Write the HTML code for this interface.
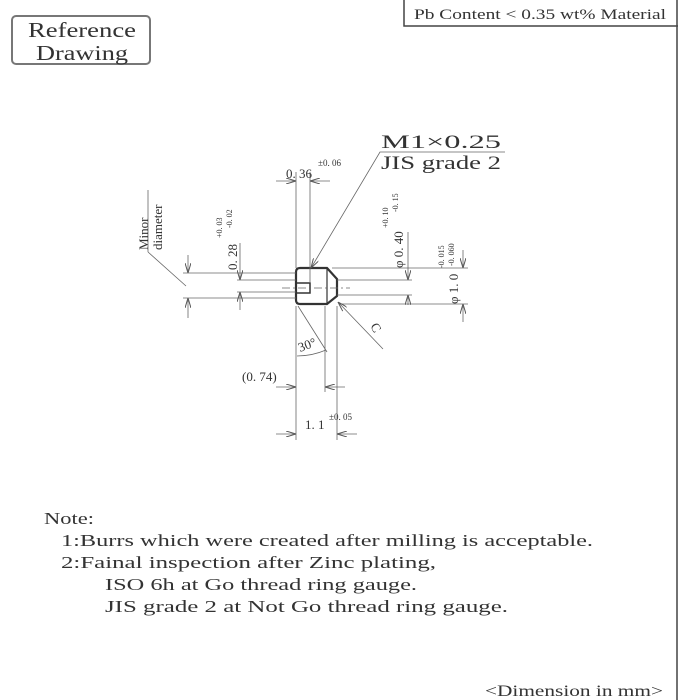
<!DOCTYPE html>
<html><head><meta charset="utf-8"><style>
html,body{margin:0;padding:0;background:#fff}
svg{display:block}
text{font-family:"Liberation Serif",serif;fill:#333}
</style></head><body>
<svg width="680" height="700" viewBox="0 0 680 700" xmlns="http://www.w3.org/2000/svg">
<defs>
<marker id="a" viewBox="0 0 10 6" refX="10" refY="3" markerWidth="10" markerHeight="6" orient="auto-start-reverse" markerUnits="userSpaceOnUse"><path d="M0,0L10,3L0,6" fill="none" stroke="#555" stroke-width="1"/></marker>
</defs>
<rect x="12" y="16" width="138" height="48" rx="4" fill="none" stroke="#777" stroke-width="2"/>
<text x="28" y="37" font-size="21" fill="#666" textLength="108" lengthAdjust="spacingAndGlyphs">Reference</text>
<text x="36" y="60" font-size="21" fill="#666" textLength="92" lengthAdjust="spacingAndGlyphs">Drawing</text>
<path d="M404,0V26H678" fill="none" stroke="#444" stroke-width="1.5"/>
<line x1="677" y1="0" x2="677" y2="700" stroke="#444" stroke-width="1.5"/>
<text x="414" y="19" font-size="15" textLength="252" lengthAdjust="spacingAndGlyphs">Pb Content &lt; 0.35 wt% Material</text>

<g stroke="#666" stroke-width="0.8" fill="none">
<path d="M300,268H327L337,279V296L327,304H300Q296,304 296,300V272Q296,268 300,268Z" stroke="#333" stroke-width="2.2"/>
<line x1="327" y1="268" x2="327" y2="304" stroke="#333" stroke-width="1.2"/>
<path d="M296,283H310V293H296" stroke="#333" stroke-width="1.5"/>
<line x1="282" y1="288" x2="350" y2="288" stroke-dasharray="8,3,2,3"/>
<line x1="183" y1="273" x2="296" y2="273"/><line x1="183" y1="298" x2="296" y2="298"/>
<line x1="188" y1="255" x2="188" y2="273" marker-end="url(#a)"/><line x1="188" y1="318" x2="188" y2="298" marker-end="url(#a)"/>
<line x1="148" y1="252" x2="186" y2="286"/><line x1="148" y1="252" x2="148" y2="190"/>
<line x1="237" y1="280" x2="296" y2="280"/><line x1="237" y1="292" x2="296" y2="292"/>
<line x1="240" y1="243" x2="240" y2="280" marker-end="url(#a)"/><line x1="240" y1="310" x2="240" y2="292" marker-end="url(#a)"/>
<line x1="337" y1="280" x2="412" y2="280"/><line x1="337" y1="295" x2="412" y2="295"/>
<line x1="408" y1="232" x2="408" y2="280" marker-end="url(#a)"/><line x1="408" y1="305" x2="408" y2="295" marker-end="url(#a)"/>
<line x1="332" y1="268" x2="468" y2="268"/><line x1="340" y1="304" x2="468" y2="304"/>
<line x1="463" y1="250" x2="463" y2="268" marker-end="url(#a)"/><line x1="463" y1="322" x2="463" y2="304" marker-end="url(#a)"/>
<line x1="296" y1="172" x2="296" y2="268"/><line x1="310" y1="172" x2="310" y2="283"/>
<line x1="276" y1="181" x2="296" y2="181" marker-end="url(#a)"/><line x1="330" y1="181" x2="310" y2="181" marker-end="url(#a)"/>
<line x1="296" y1="306" x2="296" y2="440"/><line x1="325" y1="306" x2="325" y2="392"/><line x1="337" y1="306" x2="337" y2="440"/>
<line x1="276" y1="387" x2="296" y2="387" marker-end="url(#a)"/><line x1="345" y1="387" x2="325" y2="387" marker-end="url(#a)"/>
<line x1="276" y1="434" x2="296" y2="434" marker-end="url(#a)"/><line x1="357" y1="434" x2="337" y2="434" marker-end="url(#a)"/>
<line x1="298" y1="306" x2="327" y2="352"/>
<path d="M297,356Q312,356 326,350"/>
<line x1="383" y1="349" x2="338" y2="302" marker-end="url(#a)"/>
<polyline points="505,152 380,152 311,268" marker-end="url(#a)"/>
</g>

<text x="381" y="148" font-size="19" textLength="120" lengthAdjust="spacingAndGlyphs">M1×0.25</text>
<text x="381" y="169" font-size="19" textLength="120" lengthAdjust="spacingAndGlyphs">JIS grade 2</text>
<text x="286" y="178" font-size="13">0. 36</text>
<text x="318" y="166" font-size="9">±0. 06</text>
<text transform="translate(148,250) rotate(-90)" font-size="13">Minor</text>
<text transform="translate(162,250) rotate(-90)" font-size="13">diameter</text>
<text transform="translate(237,270) rotate(-90)" font-size="13">0. 28</text>
<text transform="translate(222,238) rotate(-90)" font-size="8">+0. 03</text>
<text transform="translate(232,228) rotate(-90)" font-size="8">-0. 02</text>
<text transform="translate(403,268) rotate(-90)" font-size="13">φ 0. 40</text>
<text transform="translate(388,228) rotate(-90)" font-size="8">+0. 10</text>
<text transform="translate(398,212) rotate(-90)" font-size="8">-0. 15</text>
<text transform="translate(458,304) rotate(-90)" font-size="13">φ 1. 0</text>
<text transform="translate(444,268) rotate(-90)" font-size="8">-0. 015</text>
<text transform="translate(454,266) rotate(-90)" font-size="8">-0. 060</text>
<text transform="translate(300,352) rotate(-20)" font-size="13">30°</text>
<text transform="translate(370,326) rotate(60)" font-size="13">C</text>
<text x="242" y="381" font-size="13">(0. 74)</text>
<text x="305" y="429" font-size="13">1. 1</text>
<text x="329" y="420" font-size="9">±0. 05</text>

<g font-size="17">
<text x="44" y="524" textLength="50" lengthAdjust="spacingAndGlyphs">Note:</text>
<text x="61" y="546" textLength="532" lengthAdjust="spacingAndGlyphs">1:Burrs which were created after milling is acceptable.</text>
<text x="61" y="568" textLength="375" lengthAdjust="spacingAndGlyphs">2:Fainal inspection after Zinc plating,</text>
<text x="105" y="590" textLength="312" lengthAdjust="spacingAndGlyphs">ISO 6h at Go thread ring gauge.</text>
<text x="105" y="612" textLength="403" lengthAdjust="spacingAndGlyphs">JIS grade 2 at Not Go thread ring gauge.</text>
<text x="485" y="696" font-size="16" textLength="178" lengthAdjust="spacingAndGlyphs">&lt;Dimension in mm&gt;</text>
</g>
</svg>
</body></html>
